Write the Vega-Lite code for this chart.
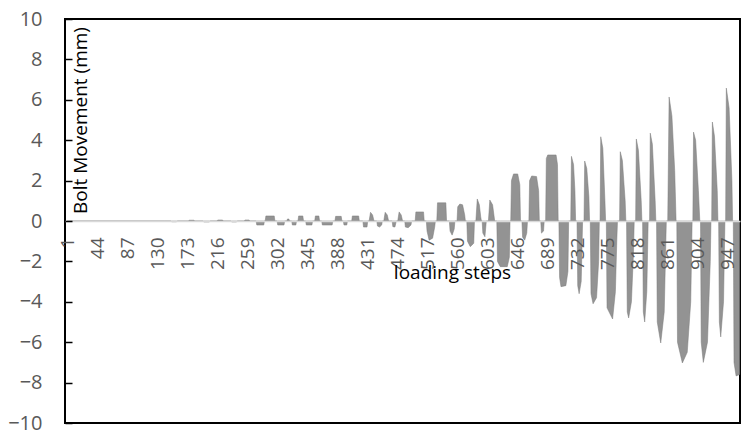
{
  "$schema": "https://vega.github.io/schema/vega-lite/v6.json",
  "width": 675,
  "height": 404,
  "autosize": {"type": "none"},
  "padding": {"left": 65, "top": 19, "right": 1, "bottom": 9},
  "background": "white",
  "view": {"stroke": "black", "strokeWidth": 2},
  "config": {"font": "Open Sans"},
  "data": {"values": [
    {"s":1,"v":0},{"s":141,"v":0},
    {"s":150,"v":0},{"s":151,"v":-0.04},{"s":158,"v":-0.04},{"s":159,"v":0},
    {"s":175,"v":0},{"s":176,"v":0.04},{"s":183,"v":0.04},{"s":184,"v":0},
    {"s":196,"v":0},{"s":197,"v":-0.05},{"s":205,"v":-0.05},{"s":206,"v":0},
    {"s":216,"v":0},{"s":217,"v":0.05},{"s":224,"v":0.05},{"s":225,"v":0},
    {"s":236,"v":0},{"s":237,"v":-0.05},{"s":244,"v":-0.05},{"s":245,"v":0},
    {"s":255,"v":0},{"s":256,"v":0.05},{"s":262,"v":0.05},{"s":263,"v":0},
    {"s":272,"v":0},{"s":273,"v":-0.2},{"s":283,"v":-0.2},{"s":284,"v":0},
    {"s":285,"v":0},{"s":286,"v":0.25},{"s":298,"v":0.25},{"s":299,"v":0},
    {"s":302,"v":0},{"s":303,"v":-0.2},{"s":312,"v":-0.2},{"s":313,"v":0},
    {"s":316,"v":0},{"s":317,"v":0.1},{"s":319,"v":0.1},{"s":320,"v":0},
    {"s":323,"v":0},{"s":324,"v":-0.2},{"s":329,"v":-0.2},{"s":330,"v":0},
    {"s":332,"v":0},{"s":333,"v":0.25},{"s":339,"v":0.25},{"s":340,"v":0},
    {"s":343,"v":0},{"s":344,"v":-0.2},{"s":352,"v":-0.2},{"s":353,"v":0},
    {"s":356,"v":0},{"s":357,"v":0.25},{"s":362,"v":0.25},{"s":363,"v":0},
    {"s":366,"v":0},{"s":367,"v":-0.2},{"s":381,"v":-0.2},{"s":382,"v":0},
    {"s":385,"v":0},{"s":386,"v":0.23},{"s":394,"v":0.23},{"s":395,"v":0},
    {"s":397,"v":0},{"s":398,"v":-0.2},{"s":402,"v":-0.2},{"s":403,"v":0},
    {"s":409,"v":0},{"s":410,"v":0.25},{"s":419,"v":0.25},{"s":420,"v":0},
    {"s":425,"v":0},{"s":426,"v":-0.3},{"s":431,"v":-0.3},{"s":432,"v":0},
    {"s":434,"v":0},{"s":436,"v":0.43},{"s":439,"v":0.3},{"s":441,"v":0},
    {"s":445,"v":0},{"s":446,"v":-0.25},{"s":449,"v":-0.3},{"s":452,"v":-0.2},{"s":453,"v":0},
    {"s":455,"v":0},{"s":457,"v":0.43},{"s":460,"v":0.3},{"s":462,"v":0},
    {"s":467,"v":0},{"s":468,"v":-0.28},{"s":471,"v":-0.3},{"s":473,"v":0},
    {"s":475,"v":0},{"s":477,"v":0.45},{"s":480,"v":0.3},{"s":482,"v":0},
    {"s":485,"v":0},{"s":486,"v":-0.3},{"s":490,"v":-0.33},{"s":494,"v":-0.2},{"s":495,"v":0},
    {"s":500,"v":0},{"s":501,"v":0.45},{"s":512,"v":0.45},{"s":513,"v":0},
    {"s":516,"v":0},{"s":517,"v":-0.5},{"s":520,"v":-0.95},{"s":525,"v":-0.85},{"s":528,"v":-0.3},{"s":529,"v":0},
    {"s":531,"v":0},{"s":532,"v":0.9},{"s":544,"v":0.9},{"s":545,"v":0},
    {"s":549,"v":0},{"s":550,"v":-0.5},{"s":553,"v":-0.7},{"s":556,"v":-0.4},{"s":557,"v":0},
    {"s":560,"v":0},{"s":561,"v":0.7},{"s":564,"v":0.84},{"s":568,"v":0.8},{"s":571,"v":0.3},{"s":572,"v":0},
    {"s":574,"v":0},{"s":575,"v":-1.0},{"s":579,"v":-1.27},{"s":584,"v":-1.1},{"s":585,"v":0},
    {"s":587,"v":0},{"s":589,"v":1.09},{"s":592,"v":0.8},{"s":594,"v":0.2},{"s":595,"v":0},
    {"s":596,"v":0},{"s":597,"v":-0.6},{"s":600,"v":-0.78},{"s":602,"v":0},
    {"s":605,"v":0},{"s":607,"v":1.04},{"s":611,"v":0.8},{"s":614,"v":0},
    {"s":617,"v":0},{"s":618,"v":-2.0},{"s":622,"v":-2.26},{"s":632,"v":-2.26},{"s":635,"v":-1.8},{"s":636,"v":0},
    {"s":637,"v":0},{"s":638,"v":2.0},{"s":641,"v":2.33},{"s":647,"v":2.33},{"s":650,"v":1.8},{"s":651,"v":0},
    {"s":653,"v":0},{"s":654,"v":-0.8},{"s":657,"v":-0.95},{"s":660,"v":-0.6},{"s":661,"v":0},
    {"s":663,"v":0},{"s":664,"v":2.0},{"s":667,"v":2.23},{"s":674,"v":2.2},{"s":677,"v":1.5},{"s":678,"v":0},
    {"s":680,"v":0},{"s":681,"v":-0.6},{"s":684,"v":-0.5},{"s":685,"v":0},
    {"s":687,"v":0},{"s":688,"v":3.1},{"s":690,"v":3.27},{"s":702,"v":3.27},{"s":704,"v":2.8},{"s":705,"v":0},
    {"s":706,"v":0},{"s":707,"v":-2.8},{"s":709,"v":-3.25},{"s":716,"v":-3.2},{"s":719,"v":-2.5},{"s":720,"v":0},
    {"s":723,"v":0},{"s":724,"v":3.2},{"s":727,"v":2.8},{"s":729,"v":1.5},{"s":730,"v":0},
    {"s":732,"v":0},{"s":733,"v":-3.2},{"s":735,"v":-3.6},{"s":738,"v":-3.0},{"s":740,"v":0},
    {"s":742,"v":0},{"s":743,"v":2.97},{"s":746,"v":2.6},{"s":749,"v":1.2},{"s":750,"v":0},
    {"s":751,"v":0},{"s":752,"v":-3.6},{"s":755,"v":-4.1},{"s":760,"v":-3.8},{"s":763,"v":-2.0},{"s":764,"v":0},
    {"s":765,"v":0},{"s":766,"v":4.17},{"s":769,"v":3.6},{"s":772,"v":1.0},{"s":773,"v":0},
    {"s":774,"v":0},{"s":775,"v":-4.3},{"s":783,"v":-4.85},{"s":787,"v":-3.5},{"s":789,"v":-1.0},{"s":790,"v":0},
    {"s":793,"v":0},{"s":794,"v":3.43},{"s":797,"v":3.0},{"s":801,"v":1.0},{"s":802,"v":0},
    {"s":803,"v":0},{"s":804,"v":-4.5},{"s":806,"v":-4.8},{"s":810,"v":-4.0},{"s":813,"v":-1.5},{"s":814,"v":0},
    {"s":816,"v":0},{"s":817,"v":4.06},{"s":820,"v":3.5},{"s":824,"v":1.0},{"s":825,"v":0},
    {"s":826,"v":0},{"s":827,"v":-4.5},{"s":829,"v":-5.0},{"s":832,"v":-3.5},{"s":834,"v":0},
    {"s":836,"v":0},{"s":837,"v":4.35},{"s":840,"v":3.8},{"s":844,"v":1.0},{"s":845,"v":0},
    {"s":846,"v":0},{"s":847,"v":-5.0},{"s":852,"v":-6.04},{"s":857,"v":-4.5},{"s":859,"v":-1.5},{"s":860,"v":0},
    {"s":862,"v":0},{"s":864,"v":6.14},{"s":868,"v":5.2},{"s":872,"v":2.5},{"s":874,"v":0},
    {"s":875,"v":0},{"s":876,"v":-6.0},{"s":883,"v":-7.03},{"s":890,"v":-6.5},{"s":895,"v":-4.0},{"s":897,"v":0},
    {"s":898,"v":0},{"s":899,"v":4.4},{"s":902,"v":4.0},{"s":906,"v":1.5},{"s":908,"v":0},
    {"s":909,"v":0},{"s":910,"v":-6.0},{"s":913,"v":-7.0},{"s":919,"v":-6.0},{"s":923,"v":-2.0},{"s":924,"v":0},
    {"s":925,"v":0},{"s":926,"v":4.9},{"s":929,"v":4.2},{"s":933,"v":1.5},{"s":934,"v":0},
    {"s":935,"v":0},{"s":936,"v":-5.0},{"s":938,"v":-5.74},{"s":942,"v":-4.0},{"s":944,"v":0},
    {"s":945,"v":0},{"s":946,"v":6.58},{"s":950,"v":5.6},{"s":954,"v":2.0},{"s":955,"v":0},
    {"s":956,"v":0},{"s":957,"v":-7.0},{"s":960,"v":-7.67},{"s":965,"v":-7.6}
  ]},
  "mark": {"type": "area", "color": "#939393", "stroke": "#7a7a7a", "strokeWidth": 0.5, "interpolate": "linear"},
  "encoding": {
    "x": {
      "field": "s", "type": "quantitative",
      "scale": {"domain": [-1.9, 965.6], "nice": false, "zero": false},
      "axis": {
        "values": [1,44,87,130,173,216,259,302,345,388,431,474,517,560,603,646,689,732,775,818,861,904,947],
        "format": "d",
        "offset": -202,
        "zindex": 1,
        "ticks": false,
        "grid": false,
        "domainColor": "#d9d9d9",
        "domainWidth": 1.5,
        "labelAngle": 270,
        "labelAlign": "right",
        "labelBaseline": "middle",
        "labelPadding": 16,
        "labelColor": "#595959",
        "labelFontSize": 19,
        "labelOverlap": false,
        "labelFlush": false,
        "labelBound": false,
        "title": "loading steps",
        "titleFontSize": 19,
        "titleFontWeight": "normal",
        "titleColor": "black",
        "titleX": 387,
        "titleY": 51,
        "titleBaseline": "middle",
        "titleAlign": "center",
        "titleAnchor": null
      }
    },
    "y": {
      "field": "v", "type": "quantitative",
      "scale": {"domain": [-10, 10], "nice": false},
      "axis": {
        "values": [-10,-8,-6,-4,-2,0,2,4,6,8,10],
        "domain": false,
        "grid": false,
        "ticks": true,
        "tickSize": -7,
        "tickWidth": 1.5,
        "tickColor": "black",
        "labelPadding": 30,
        "labelColor": "#595959",
        "labelFontSize": 20,
        "labelFlush": false,
        "title": "Bolt Movement (mm)",
        "titleFontSize": 19,
        "titleFontWeight": "normal",
        "titleColor": "black",
        "titleX": 15,
        "titleY": 101,
        "titleAngle": -90,
        "titleBaseline": "middle",
        "titleAlign": "center",
        "zindex": 1
      }
    }
  }
}
